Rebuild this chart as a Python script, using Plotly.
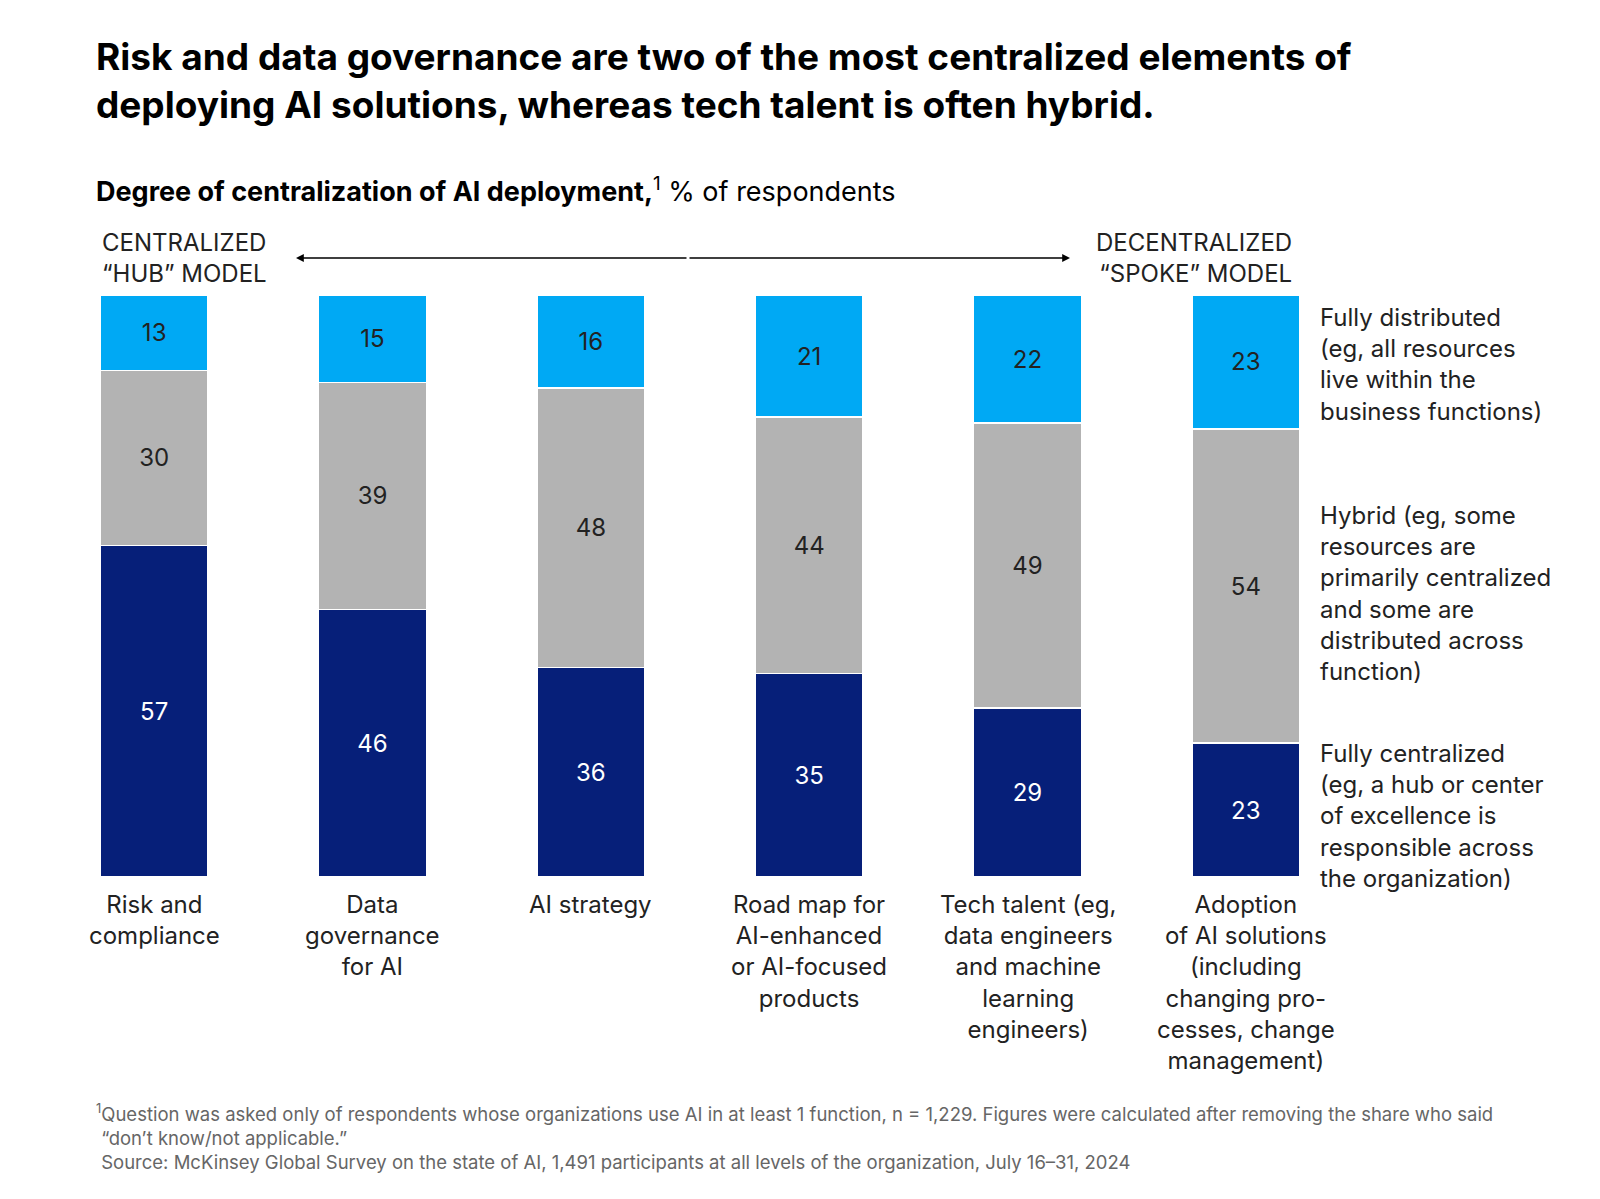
import plotly.graph_objects as go

categories = ["Risk and compliance", "Data governance for AI", "AI strategy",
              "Road map for AI-enhanced or AI-focused products",
              "Tech talent", "Adoption of AI solutions"]
cat_labels = ["Risk and<br>compliance", "Data<br>governance<br>for AI", "AI strategy",
              "Road map for<br>AI-enhanced<br>or AI-focused<br>products",
              "Tech talent (eg,<br>data engineers<br>and machine<br>learning<br>engineers)",
              "Adoption<br>of AI solutions<br>(including<br>changing pro-<br>cesses, change<br>management)"]
centralized = [57, 46, 36, 35, 29, 23]
hybrid = [30, 39, 48, 44, 49, 54]
distributed = [13, 15, 16, 21, 22, 23]

W, H = 1600, 1199
L, R, T, B = 37, 1347, 287, 869
def px(x): return (x - L) / (R - L)
def py(y): return (B - y) / (B - T)

FONT = "Inter"
fig = go.Figure()
for name, vals, col, tcol in [("Fully centralized", centralized, "#061f79", "white"),
                              ("Hybrid", hybrid, "#b3b3b3", "#222222"),
                              ("Fully distributed", distributed, "#00a9f4", "#222222")]:
    fig.add_trace(go.Bar(x=categories, y=vals, name=name, marker_color=col,
                         marker_line_color="white", marker_line_width=1.5,
                         width=0.495, text=vals, textposition="inside",
                         insidetextanchor="middle",
                         textfont=dict(size=24, color=tcol, family=FONT)))

ann = []
ann.append(dict(x=px(86), y=py(72), xanchor="left", yanchor="middle",
                text="<b>Risk and data governance are two of the most centralized elements of<br>deploying AI solutions, whereas tech talent is often hybrid.</b>",
                font=dict(size=37, color="black", family=FONT), align="left"))
ann.append(dict(x=px(86), y=py(182), xanchor="left", yanchor="middle",
                text="<b>Degree of centralization of AI deployment,</b><sup>1</sup> % of respondents",
                font=dict(size=27, color="black", family=FONT), align="left"))
ann.append(dict(x=px(92), y=py(250), xanchor="left", yanchor="middle",
                text="CENTRALIZED<br>“HUB” MODEL", font=dict(size=24, color="#222", family=FONT), align="left"))
ann.append(dict(x=px(1286), y=py(250), xanchor="right", yanchor="middle",
                text="DECENTRALIZED<br>“SPOKE” MODEL", font=dict(size=24, color="#222", family=FONT), align="right"))
for i, lab in enumerate(cat_labels):
    ann.append(dict(x=categories[i], xref="x", y=py(880), yanchor="top", xanchor="center",
                    text=lab, font=dict(size=24, color="#222", family=FONT), align="center"))
for ytop, txt in [(293, "Fully distributed<br>(eg, all resources<br>live within the<br>business functions)"),
                  (491, "Hybrid (eg, some<br>resources are<br>primarily centralized<br>and some are<br>distributed across<br>function)"),
                  (729, "Fully centralized<br>(eg, a hub or center<br>of excellence is<br>responsible across<br>the organization)")]:
    ann.append(dict(x=px(1310), y=py(ytop), xanchor="left", yanchor="top", text=txt,
                    font=dict(size=24, color="#222", family=FONT), align="left"))
ann.append(dict(x=px(86), y=py(1090), xanchor="left", yanchor="top",
                text="<sup>1</sup>Question was asked only of respondents whose organizations use AI in at least 1 function, n = 1,229. Figures were calculated after removing the share who said<br> “don’t know/not applicable.”<br> Source: McKinsey Global Survey on the state of AI, 1,491 participants at all levels of the organization, July 16–31, 2024",
                font=dict(size=18.5, color="#666", family=FONT), align="left"))
for x0, x1 in [(680, 288), (680, 1062)]:
    ann.append(dict(x=px(x1), y=py(250), ax=x0 - x1, ay=0, axref="pixel", ayref="pixel",
                    text="", showarrow=True, arrowhead=2, arrowsize=1.2, arrowwidth=1.3, arrowcolor="black"))
for a in ann:
    a.setdefault("xref", "paper"); a.setdefault("yref", "paper"); a.setdefault("showarrow", False)

fig.update_layout(width=W, height=H, barmode="stack", showlegend=False,
                  plot_bgcolor="white", paper_bgcolor="white",
                  margin=dict(l=L, r=W - R, t=T, b=H - B),
                  xaxis=dict(range=[-0.5, 5.5], showticklabels=False, showgrid=False, zeroline=False),
                  yaxis=dict(range=[0, 100], visible=False),
                  annotations=ann, font=dict(family=FONT))
fig.write_html("out.html")
